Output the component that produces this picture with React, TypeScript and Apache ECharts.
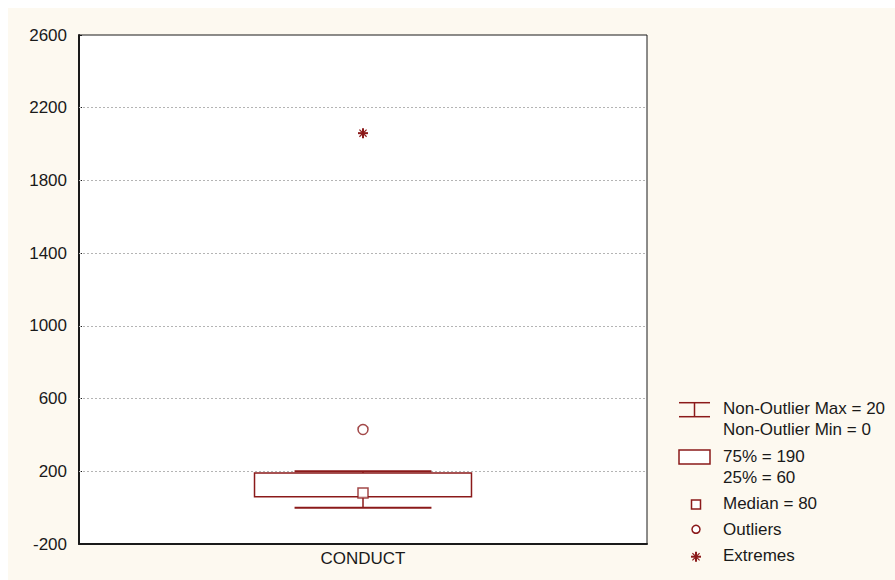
import { useEffect, useRef } from 'react';
import * as echarts from 'echarts';

// Box-whisker summary of the CONDUCT variable
const categories = ['CONDUCT'];
const nonOutlierMin = [0];
const quartile25 = [60];
const medians = [80];
const quartile75 = [190];
const nonOutlierMax = [200];
const outlierValues = [430];
const extremeValues = [2060];
const yTickLabels = [-200, 200, 600, 1000, 1400, 1800, 2200, 2600];

const RED = '#8b1a1a';
const INK = '#1a1a1a';
const FONT = 'Arial, "Liberation Sans", Helvetica, sans-serif';
const FS = 17;

// eight-armed asterisk used for extreme values
const starLines = (cx: number, cy: number, r: number) => {
  const d = r * 0.72;
  return [
    { type: 'line', shape: { x1: cx - r, y1: cy, x2: cx + r, y2: cy }, style: { stroke: RED, lineWidth: 2 } },
    { type: 'line', shape: { x1: cx, y1: cy - r, x2: cx, y2: cy + r }, style: { stroke: RED, lineWidth: 2 } },
    { type: 'line', shape: { x1: cx - d, y1: cy - d, x2: cx + d, y2: cy + d }, style: { stroke: RED, lineWidth: 1.2 } },
    { type: 'line', shape: { x1: cx - d, y1: cy + d, x2: cx + d, y2: cy - d }, style: { stroke: RED, lineWidth: 1.2 } },
  ];
};

const legendText = (x: number, y: number, text: string, extra: any = {}) => ({
  type: 'text',
  x,
  y,
  style: {
    text,
    fill: INK,
    font: `${FS}px ${FONT}`,
    textVerticalAlign: 'middle',
    textAlign: 'left',
    ...extra,
  },
});

export default function App() {
  const ref = useRef<HTMLDivElement>(null);

  useEffect(() => {
    if (!ref.current) return;
    const chart = echarts.init(ref.current, null, { renderer: 'svg' });

    const boxData = categories.map((_, i) => [
      i,
      nonOutlierMin[i],
      quartile25[i],
      quartile75[i],
      nonOutlierMax[i],
    ]);
    const medianData = categories.map((_, i) => [i, medians[i]]);
    const outlierData = outlierValues.map((v) => [0, v]);
    const extremeData = extremeValues.map((v) => [0, v]);

    const yMin = yTickLabels[0];
    const yMax = yTickLabels[yTickLabels.length - 1];
    const yStep = yTickLabels[1] - yTickLabels[0];

    const lx = 671; // legend symbol column
    const tx = 715; // legend text column

    chart.setOption({
      animation: false,
      backgroundColor: '#fdf9f0',
      grid: {
        left: 71,
        top: 27,
        right: 248,
        bottom: 36,
        show: true,
        backgroundColor: '#ffffff',
        borderColor: INK,
        borderWidth: 1,
      },
      xAxis: {
        type: 'category',
        data: categories,
        axisLine: { show: true, onZero: false, lineStyle: { color: INK, width: 2 } },
        axisTick: { show: false },
        axisLabel: { color: INK, fontSize: FS, fontFamily: FONT, margin: 6 },
        splitLine: { show: false },
      },
      yAxis: {
        type: 'value',
        min: yMin,
        max: yMax,
        interval: yStep,
        axisLine: { show: true, onZero: false, lineStyle: { color: INK, width: 2 } },
        axisTick: { show: true, inside: true, length: 3, lineStyle: { color: INK } },
        axisLabel: {
          color: INK,
          fontSize: FS,
          fontFamily: FONT,
          margin: 12,
          formatter: (v: number) => String(v),
        },
        splitLine: { show: false },
      },
      series: [
        {
          type: 'custom',
          name: 'box',
          data: boxData,
          encode: { x: 0, y: [1, 2, 3, 4] },
          z: 3,
          markLine: {
            silent: true,
            z: 1,
            symbol: 'none',
            label: { show: false },
            lineStyle: { color: '#b4b4b4', type: [2, 2], width: 1 },
            data: yTickLabels.filter((v) => v > yMin && v < yMax).map((v) => ({ yAxis: v })),
          },
          renderItem: (_params: any, api: any) => {
            const x = api.value(0);
            const [cx, yLo] = api.coord([x, api.value(1)]);
            const yQ1 = api.coord([x, api.value(2)])[1];
            const yQ3 = api.coord([x, api.value(3)])[1];
            const yHi = api.coord([x, api.value(4)])[1];
            const band = api.size([1, 0])[0];
            const boxW = band * 0.382;
            const capW = band * 0.241;
            return {
              type: 'group',
              children: [
                { type: 'line', shape: { x1: cx, y1: yQ1, x2: cx, y2: yLo }, style: { stroke: RED, lineWidth: 1.5 } },
                { type: 'line', shape: { x1: cx, y1: yQ3, x2: cx, y2: yHi }, style: { stroke: RED, lineWidth: 1.5 } },
                { type: 'line', shape: { x1: cx - capW / 2, y1: yLo, x2: cx + capW / 2, y2: yLo }, style: { stroke: RED, lineWidth: 2 } },
                { type: 'line', shape: { x1: cx - capW / 2, y1: yHi, x2: cx + capW / 2, y2: yHi }, style: { stroke: RED, lineWidth: 2 } },
                {
                  type: 'rect',
                  shape: { x: cx - boxW / 2, y: yQ3, width: boxW, height: yQ1 - yQ3 },
                  style: { fill: 'none', stroke: RED, lineWidth: 1.5 },
                },
              ],
            };
          },
        },
        {
          type: 'scatter',
          name: 'Median',
          data: medianData,
          symbol: 'rect',
          symbolSize: 10,
          z: 4,
          itemStyle: { color: '#ffffff', borderColor: RED, borderWidth: 1.5 },
        },
        {
          type: 'scatter',
          name: 'Outliers',
          data: outlierData,
          symbol: 'circle',
          symbolSize: 10,
          z: 4,
          itemStyle: { color: '#ffffff', borderColor: RED, borderWidth: 1.5 },
        },
        {
          type: 'custom',
          name: 'Extremes',
          data: extremeData,
          z: 4,
          renderItem: (_params: any, api: any) => {
            const [cx, cy] = api.coord([api.value(0), api.value(1)]);
            return { type: 'group', children: starLines(cx, cy, 5) };
          },
        },
      ],
      graphic: [
        // whisker key
        { type: 'line', shape: { x1: lx, y1: 394.7, x2: lx + 31, y2: 394.7 }, style: { stroke: RED, lineWidth: 1.5 } },
        { type: 'line', shape: { x1: lx, y1: 408.7, x2: lx + 31, y2: 408.7 }, style: { stroke: RED, lineWidth: 1.5 } },
        { type: 'line', shape: { x1: lx + 15.5, y1: 394.7, x2: lx + 15.5, y2: 408.7 }, style: { stroke: RED, lineWidth: 1.5 } },
        legendText(tx, 400.5, `Non-Outlier Max = ${nonOutlierMax[0]}`, { width: 166, overflow: 'truncate', ellipsis: '' }),
        legendText(tx, 421, `Non-Outlier Min = ${nonOutlierMin[0]}`),
        // box key
        { type: 'rect', shape: { x: lx, y: 442, width: 31, height: 14 }, style: { fill: '#ffffff', stroke: RED, lineWidth: 1.5 } },
        legendText(tx, 448.7, `75% = ${quartile75[0]}`),
        legendText(tx, 469, `25% = ${quartile25[0]}`),
        // median key
        { type: 'rect', shape: { x: 683.5, y: 492, width: 9, height: 9 }, style: { fill: '#ffffff', stroke: RED, lineWidth: 1.5 } },
        legendText(tx, 495.8, `Median = ${medians[0]}`),
        // outlier key
        { type: 'circle', shape: { cx: 688, cy: 521.3, r: 4 }, style: { fill: '#ffffff', stroke: RED, lineWidth: 1.5 } },
        legendText(tx, 521, 'Outliers'),
        // extreme key
        { type: 'group', children: starLines(688, 548.7, 5) },
        legendText(tx, 547, 'Extremes'),
      ],
    });

    return () => chart.dispose();
  }, []);

  return (
    <div
      ref={ref}
      style={{ position: 'absolute', left: 8, top: 8, width: 887, height: 572 }}
    />
  );
}
